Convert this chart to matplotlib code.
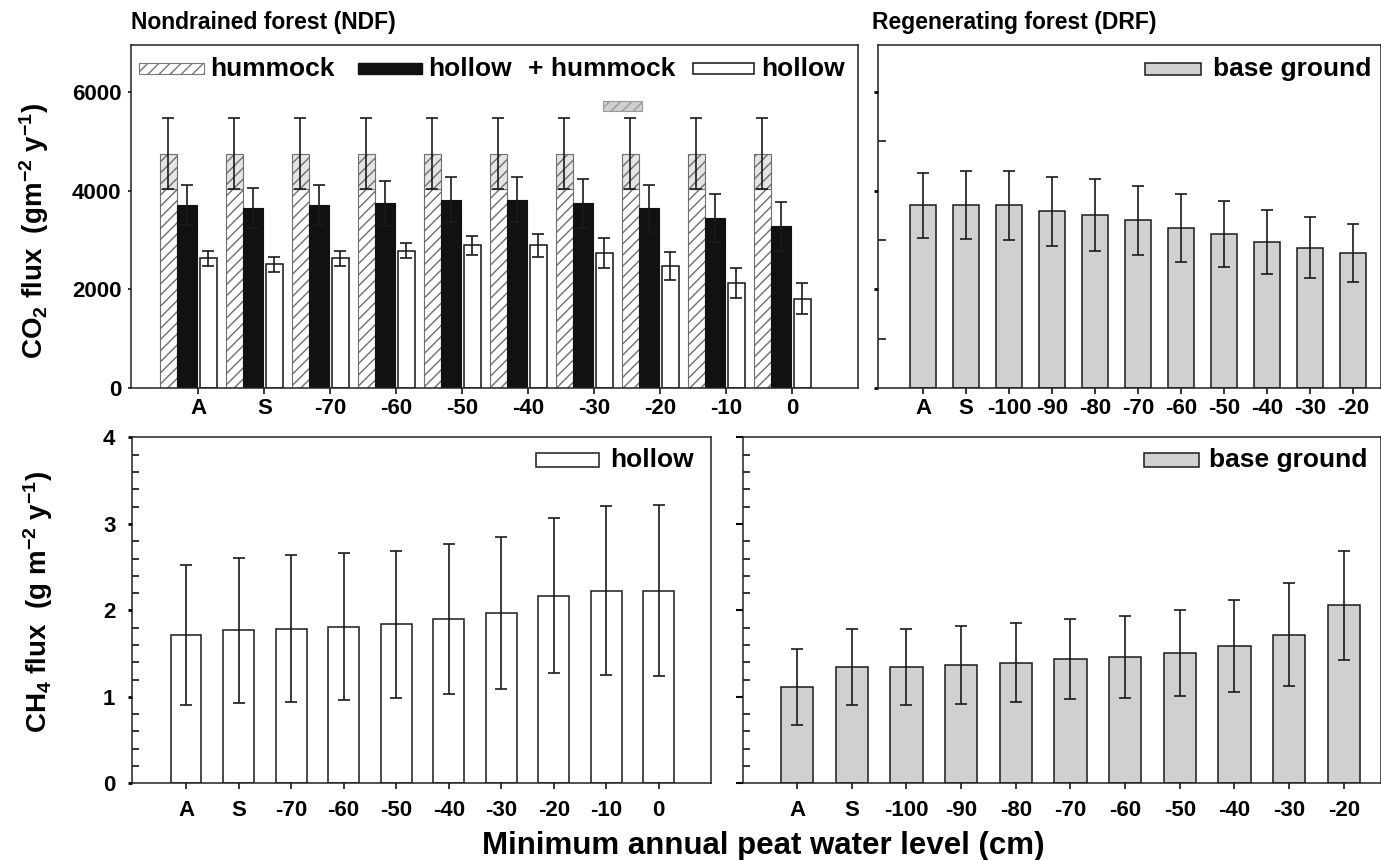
import matplotlib

matplotlib.use("Agg")
import matplotlib.pyplot as plt
from matplotlib.patches import Rectangle
from matplotlib.ticker import MultipleLocator

plt.rcParams["font.family"] = ["Liberation Sans", "DejaVu Sans"]
plt.rcParams["font.weight"] = "bold"
plt.rcParams["mathtext.default"] = "regular"
plt.rcParams["hatch.linewidth"] = 1.0

# --- data -------------------------------------------------------------
ndf_levels = ["A", "S", "-70", "-60", "-50", "-40", "-30", "-20", "-10", "0"]
drf_levels = ["A", "S", "-100", "-90", "-80", "-70", "-60", "-50", "-40", "-30", "-20"]

# CO2, nondrained forest
ndf_hummock_base = [4040, 4040, 4040, 4040, 4040, 4040, 4040, 4040, 4040, 4040]
ndf_hummock = [4750, 4750, 4750, 4750, 4750, 4750, 4750, 4750, 4750, 4750]
ndf_hummock_err = [715, 715, 715, 715, 715, 715, 715, 715, 715, 715]
ndf_hollow = [3710, 3640, 3710, 3740, 3820, 3820, 3740, 3640, 3440, 3280]
ndf_hollow_err = [405, 405, 405, 460, 450, 450, 495, 475, 485, 495]
ndf_hollow2 = [2630, 2510, 2630, 2780, 2890, 2890, 2740, 2470, 2120, 1810]
ndf_hollow2_err = [150, 150, 150, 155, 195, 230, 300, 290, 305, 310]

# CO2, regenerating forest
drf_co2 = [3700, 3700, 3700, 3585, 3510, 3395, 3237, 3121, 2965, 2842, 2730]
drf_co2_err = [665, 690, 700, 700, 725, 700, 690, 665, 650, 620, 585]

# CH4
ndf_ch4 = [1.72, 1.77, 1.79, 1.81, 1.84, 1.90, 1.97, 2.17, 2.23, 2.23]
ndf_ch4_err = [0.81, 0.84, 0.85, 0.85, 0.85, 0.87, 0.88, 0.90, 0.98, 0.99]
drf_ch4 = [1.11, 1.35, 1.35, 1.37, 1.395, 1.44, 1.46, 1.51, 1.59, 1.72, 2.06]
drf_ch4_err = [0.44, 0.44, 0.44, 0.45, 0.46, 0.46, 0.47, 0.50, 0.53, 0.60, 0.63]

GREY = "#d0d0d0"
HATCH = "///"
ERR = dict(fmt="none", ecolor="#1a1a1a", elinewidth=1.2, capsize=4, capthick=1.2, zorder=4)

fig = plt.figure(figsize=(13.81, 8.60), dpi=100)
ax_tl = fig.add_axes([0.0949, 0.5488, 0.5264, 0.3988])
ax_tr = fig.add_axes([0.6358, 0.5488, 0.3642, 0.3988])
ax_bl = fig.add_axes([0.0956, 0.0892, 0.4193, 0.4021])
ax_br = fig.add_axes([0.5380, 0.0892, 0.4620, 0.4021])


def style(ax, labels, xlim, pad):
    ax.set_xlim(*xlim)
    ax.set_xticks(range(len(labels)), labels)
    ax.tick_params(axis="x", direction="out", length=4, width=1.1, pad=pad, labelsize=16)
    for s in ax.spines.values():
        s.set_linewidth(1.1)
        s.set_color("#222222")


def legend_item(ax, x, y, w, h, label, tx, **kw):
    ax.add_patch(Rectangle((x, y), w, h, transform=ax.transAxes, clip_on=False,
                           zorder=5, **kw))
    if label:
        ax.text(tx, y + h / 2, label, transform=ax.transAxes, va="center",
                ha="left", fontsize=19)


# --- top left: CO2 NDF -------------------------------------------------
x = list(range(len(ndf_levels)))
ax_tl.bar([i - 0.455 for i in x], ndf_hummock_base, 0.253, fc="white",
          ec="#6e6e6e", lw=0.8, hatch=HATCH, zorder=2)
ax_tl.bar([i - 0.455 for i in x], [t - b for t, b in zip(ndf_hummock, ndf_hummock_base)],
          0.253, bottom=ndf_hummock_base, fc="#e4e4e4", ec="#6e6e6e", lw=0.8,
          hatch=HATCH, zorder=2)
ax_tl.errorbar([i - 0.455 for i in x], ndf_hummock, yerr=ndf_hummock_err, **ERR)
ax_tl.bar([i - 0.176 for i in x], ndf_hollow, 0.30, fc="#111111", ec="#111111", lw=0.8, zorder=2)
ax_tl.errorbar([i - 0.176 for i in x], ndf_hollow, yerr=ndf_hollow_err, **ERR)
ax_tl.bar([i + 0.152 for i in x], ndf_hollow2, 0.253, fc="white", ec="#141414", lw=1.1, zorder=2)
ax_tl.errorbar([i + 0.152 for i in x], ndf_hollow2, yerr=ndf_hollow2_err, **ERR)
style(ax_tl, ndf_levels, (-1.02, 9.995), 3)
ax_tl.set_ylim(0, 6950)
ax_tl.set_yticks([0, 2000, 4000, 6000])
ax_tl.tick_params(axis="y", direction="out", length=2, width=1.1, pad=5, labelsize=16)

legend_item(ax_tl, 0.011, 0.915, 0.089, 0.033, "hummock", 0.109,
            fc="white", ec="#777777", lw=0.8, hatch=HATCH)
legend_item(ax_tl, 0.312, 0.915, 0.088, 0.033, "hollow", 0.4085, fc="#111111", ec="#111111")
ax_tl.text(0.5465, 0.9315, "+ hummock", transform=ax_tl.transAxes, va="center",
           ha="left", fontsize=19)
legend_item(ax_tl, 0.773, 0.915, 0.084, 0.033, "hollow", 0.8666, fc="white",
            ec="#141414", lw=1.1)
legend_item(ax_tl, 0.6487, 0.8076, 0.054, 0.030, "", 0, fc="#cfcfcf",
            ec="#999999", lw=0.8, hatch=HATCH)

# --- top right: CO2 DRF ------------------------------------------------
x2 = list(range(len(drf_levels)))
ax_tr.bar(x2, drf_co2, 0.61, fc=GREY, ec="#1a1a1a", lw=1.1, zorder=2)
ax_tr.errorbar(x2, drf_co2, yerr=drf_co2_err, **ERR)
style(ax_tr, drf_levels, (-1.046, 10.65), 3)
ax_tr.set_ylim(0, 6950)
ax_tr.set_yticks([0, 2000, 4000, 6000])
ax_tr.yaxis.set_minor_locator(MultipleLocator(1000))
ax_tr.tick_params(axis="y", which="major", direction="out", length=3, width=2, labelleft=False)
ax_tr.tick_params(axis="y", which="minor", direction="in", length=6, width=1.1)
legend_item(ax_tr, 0.531, 0.9125, 0.112, 0.036, "base ground", 0.666,
            fc=GREY, ec="#1a1a1a", lw=1.1)

# --- bottom left: CH4 NDF ----------------------------------------------
ax_bl.bar(x, ndf_ch4, 0.585, fc="white", ec="#1a1a1a", lw=1.1, zorder=2)
ax_bl.errorbar(x, ndf_ch4, yerr=ndf_ch4_err, **ERR)
style(ax_bl, ndf_levels, (-1.03, 9.996), 8)
ax_bl.set_ylim(0, 4)
ax_bl.set_yticks([0, 1, 2, 3, 4])
ax_bl.yaxis.set_minor_locator(MultipleLocator(0.2))
ax_bl.tick_params(axis="y", which="major", direction="out", length=3, width=2,
                  pad=9, labelsize=16)
ax_bl.tick_params(axis="y", which="minor", direction="in", length=5, width=1.1)
legend_item(ax_bl, 0.698, 0.915, 0.109, 0.040, "hollow", 0.826, fc="white",
            ec="#1a1a1a", lw=1.1)

# --- bottom right: CH4 DRF ---------------------------------------------
ax_br.bar(x2, drf_ch4, 0.59, fc=GREY, ec="#1a1a1a", lw=1.1, zorder=2)
ax_br.errorbar(x2, drf_ch4, yerr=drf_ch4_err, **ERR)
style(ax_br, drf_levels, (-0.99, 10.68), 8)
ax_br.set_ylim(0, 4)
ax_br.set_yticks([0, 1, 2, 3, 4])
ax_br.yaxis.set_minor_locator(MultipleLocator(0.2))
ax_br.tick_params(axis="y", which="major", direction="out", length=5, width=1.5, labelleft=False)
ax_br.tick_params(axis="y", which="minor", direction="in", length=5, width=1.1)
legend_item(ax_br, 0.628, 0.915, 0.086, 0.040, "base ground", 0.730,
            fc=GREY, ec="#1a1a1a", lw=1.1)

# --- titles and axis labels --------------------------------------------
fig.text(131 / 1381, 1 - 22 / 860, "Nondrained forest (NDF)", fontsize=16.5,
         ha="left", va="center")
fig.text(872 / 1381, 1 - 22 / 860, "Regenerating forest (DRF)", fontsize=16.5,
         ha="left", va="center")
fig.text(34 / 1381, 1 - 231 / 860, "CO$_2$ flux  (gm$^{-2}$ y$^{-1}$)", fontsize=20,
         rotation=90, ha="center", va="center")
fig.text(38 / 1381, 1 - 602 / 860, "CH$_4$ flux  (g m$^{-2}$ y$^{-1}$)", fontsize=20,
         rotation=90, ha="center", va="center")
fig.text(763 / 1381, 1 - 846 / 860, "Minimum annual peat water level (cm)", fontsize=22.5,
         ha="center", va="center")

fig.savefig("out.png", dpi=100)
